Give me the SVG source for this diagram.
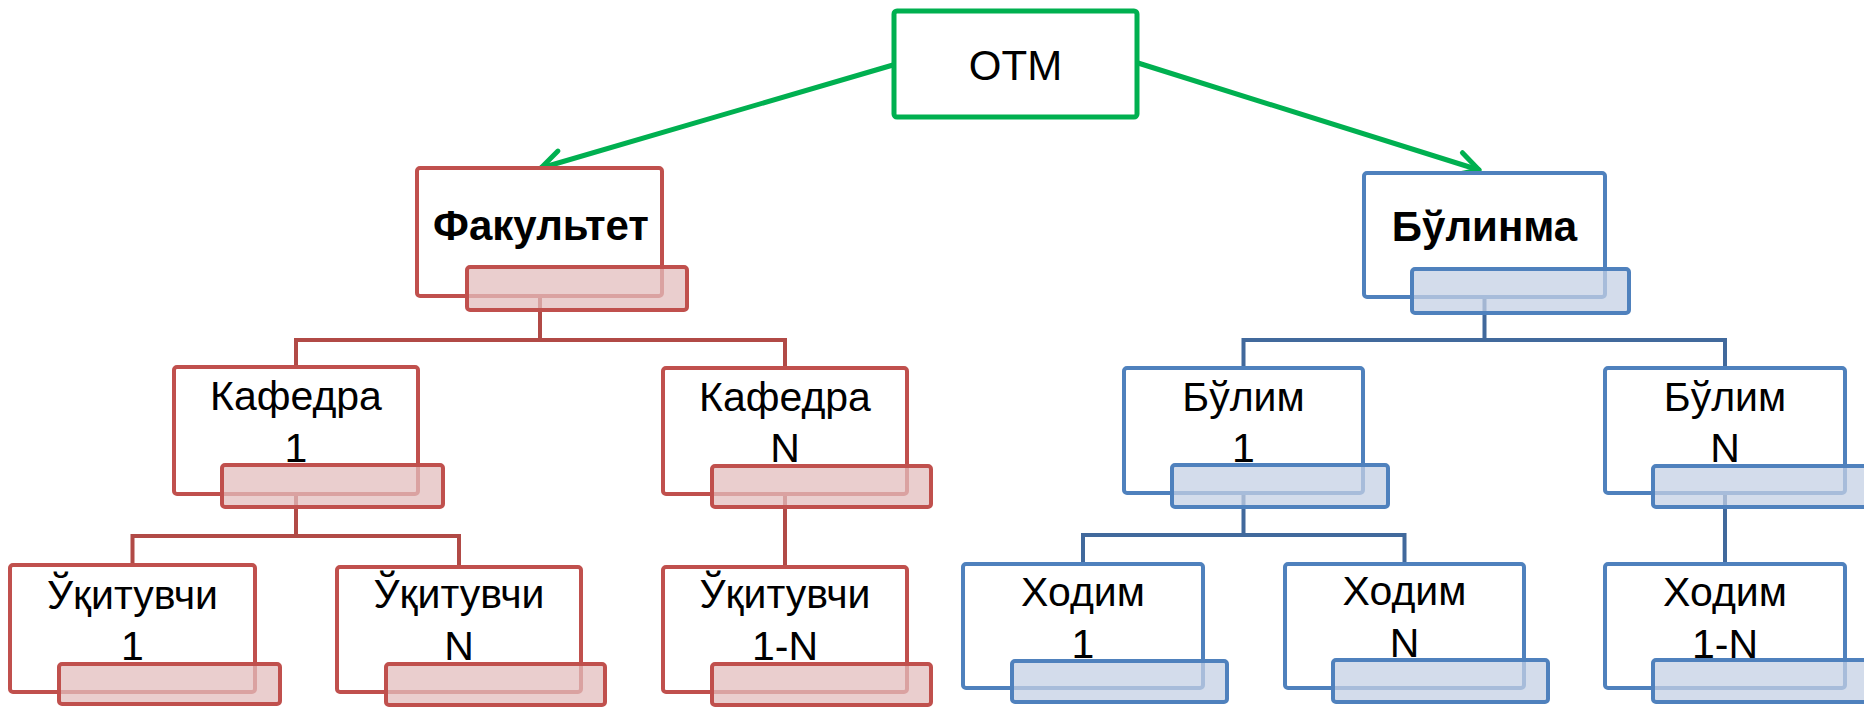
<svg xmlns="http://www.w3.org/2000/svg" width="1864" height="708" viewBox="0 0 1864 708">
<defs>
<style>
.t{font-family:"Liberation Sans",Arial,sans-serif;font-size:41px;fill:#000;text-anchor:middle}
.b{font-weight:bold;font-size:42px}
.o{font-size:42px}
.rbox{fill:#fff;stroke:#c0504d;stroke-width:4}
.rov{fill:#e3bebd;fill-opacity:0.75;stroke:#c0504d;stroke-width:4}
.bbox{fill:#fff;stroke:#4f81bd;stroke-width:4}
.bov{fill:#c4d0e4;fill-opacity:0.75;stroke:#4f81bd;stroke-width:4}
.gbox{fill:#fff;stroke:#00b050;stroke-width:5}
.rc{fill:none;stroke:#b14a46;stroke-width:4}
.bc{fill:none;stroke:#41699c;stroke-width:4}
.gc{fill:none;stroke:#00b050;stroke-width:5;stroke-linecap:round}
</style>
<marker id="arr" markerUnits="userSpaceOnUse" markerWidth="60" markerHeight="60" refX="0" refY="0" orient="auto" overflow="visible">
<path d="M-21,-11.5 L0,0 L-21,11.5" fill="none" stroke="#00b050" stroke-width="5" stroke-linecap="round" stroke-linejoin="round"/>
</marker>
</defs>
<rect width="1864" height="708" fill="#fff"/>
<g id="connectors">
<path class="gc" d="M893,65 L541,168" marker-end="url(#arr)"/>
<path class="gc" d="M1138,63 L1479,170" marker-end="url(#arr)"/>
<path class="rc" d="M540,296 V340 M296,368 V340 H785 V368"/>
<path class="rc" d="M296,494 V536 M132.5,567 V536 H459 V567"/>
<path class="rc" d="M785,494 V567"/>
<path class="bc" d="M1484.5,297 V340 M1243.5,368 V340 H1725 V368"/>
<path class="bc" d="M1243.5,493 V535 M1083,564 V535 H1404.5 V564"/>
<path class="bc" d="M1725,493 V564"/>
</g>
<g id="otm">
<rect class="gbox" x="894" y="11" width="243" height="106" rx="3"/>
<text class="t o" x="1015.5" y="80">ОТМ</text>
</g>
<g id="fakultet">
<rect class="rbox" x="417" y="168" width="245" height="128" rx="3"/>
<text class="t b" x="541" y="240">Факультет</text>
<rect class="rov" x="467" y="267" width="220" height="43" rx="3"/>
</g>
<g id="kafedra1">
<rect class="rbox" x="174" y="367" width="244" height="127" rx="3"/>
<text class="t" x="296" y="410">Кафедра</text>
<text class="t" x="296" y="462">1</text>
<rect class="rov" x="222" y="465" width="221" height="42" rx="3"/>
</g>
<g id="kafedraN">
<rect class="rbox" x="663" y="368" width="244" height="126" rx="3"/>
<text class="t" x="785" y="411">Кафедра</text>
<text class="t" x="785" y="462">N</text>
<rect class="rov" x="712" y="466" width="219" height="41" rx="3"/>
</g>
<g id="ukituvchi1">
<rect class="rbox" x="10" y="565" width="245" height="127" rx="3"/>
<text class="t" x="132.5" y="609">Ўқитувчи</text>
<text class="t" x="132.5" y="660">1</text>
<rect class="rov" x="59" y="664" width="221" height="40" rx="3"/>
</g>
<g id="ukituvchiN">
<rect class="rbox" x="337" y="567" width="244" height="125" rx="3"/>
<text class="t" x="459" y="608">Ўқитувчи</text>
<text class="t" x="459" y="660">N</text>
<rect class="rov" x="386" y="664" width="219" height="41" rx="3"/>
</g>
<g id="ukituvchi1N">
<rect class="rbox" x="663" y="567" width="244" height="125" rx="3"/>
<text class="t" x="785" y="608">Ўқитувчи</text>
<text class="t" x="785" y="660">1-N</text>
<rect class="rov" x="712" y="664" width="219" height="41" rx="3"/>
</g>
<g id="bulinma">
<rect class="bbox" x="1364" y="173" width="241" height="124" rx="3"/>
<text class="t b" x="1484.5" y="241">Бўлинма</text>
<rect class="bov" x="1412" y="269" width="217" height="44" rx="3"/>
</g>
<g id="bulim1">
<rect class="bbox" x="1124" y="368" width="239" height="125" rx="3"/>
<text class="t" x="1243.5" y="411">Бўлим</text>
<text class="t" x="1243.5" y="462">1</text>
<rect class="bov" x="1172" y="465" width="216" height="42" rx="3"/>
</g>
<g id="bulimN">
<rect class="bbox" x="1605" y="368" width="240" height="125" rx="3"/>
<text class="t" x="1725" y="411">Бўлим</text>
<text class="t" x="1725" y="462">N</text>
<rect class="bov" x="1653" y="466" width="220" height="41" rx="3"/>
</g>
<g id="xodim1">
<rect class="bbox" x="963" y="564" width="240" height="124" rx="3"/>
<text class="t" x="1083" y="606">Ходим</text>
<text class="t" x="1083" y="658">1</text>
<rect class="bov" x="1012" y="661" width="215" height="41" rx="3"/>
</g>
<g id="xodimN">
<rect class="bbox" x="1285" y="564" width="239" height="124" rx="3"/>
<text class="t" x="1404.5" y="605">Ходим</text>
<text class="t" x="1404.5" y="657">N</text>
<rect class="bov" x="1333" y="660" width="215" height="42" rx="3"/>
</g>
<g id="xodim1N">
<rect class="bbox" x="1605" y="564" width="240" height="124" rx="3"/>
<text class="t" x="1725" y="606">Ходим</text>
<text class="t" x="1725" y="658">1-N</text>
<rect class="bov" x="1653" y="660" width="220" height="42" rx="3"/>
</g>
</svg>
